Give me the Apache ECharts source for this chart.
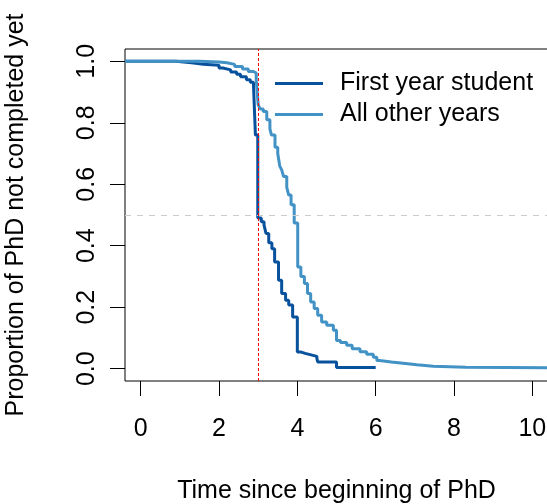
<!DOCTYPE html>
<html>
<head>
<meta charset="utf-8">
<script src="https://cdn.jsdelivr.net/npm/echarts@6/dist/echarts.min.js"></script>
<style>
html,body{margin:0;padding:0;background:#fff;}
#chart{width:547px;height:504px;}
</style>
</head>
<body>
<div id="chart"></div>
<script>
// Series names
const seriesNames = ["First year student", "All other years"];

// First year student (time, proportion)
const firstTimes = [-0.4, 0.9, 1.3, 1.6, 2.0, 2.1, 2.3, 2.45, 2.55, 2.7, 2.8, 2.88, 2.93, 2.99, 3.08, 3.15, 3.2, 3.27, 3.35, 3.42, 3.52, 3.6, 3.7, 3.78, 3.88, 4.0, 4.1, 4.2, 4.35, 4.5, 4.52, 5.0, 6.0];
const firstValues = [1.0, 0.995, 0.99, 0.987, 0.978, 0.972, 0.965, 0.958, 0.95, 0.94, 0.932, 0.924, 0.76, 0.49, 0.478, 0.467, 0.44, 0.41, 0.39, 0.347, 0.288, 0.245, 0.223, 0.207, 0.168, 0.054, 0.05, 0.045, 0.04, 0.033, 0.022, 0.004, 0.004];

// All other years (time, proportion)
const otherTimes = [-0.4, 1.5, 2.0, 2.2, 2.4, 2.6, 2.75, 2.88, 2.95, 3.0, 3.05, 3.13, 3.22, 3.3, 3.34, 3.43, 3.5, 3.55, 3.6, 3.65, 3.73, 3.78, 3.84, 3.92, 4.01, 4.09, 4.18, 4.26, 4.34, 4.43, 4.52, 4.62, 4.75, 4.92, 5.0, 5.1, 5.26, 5.4, 5.6, 5.77, 5.94, 6.03, 6.1, 6.4, 6.7, 7.05, 7.47, 8.3, 10.4];
const otherValues = [1.0, 0.998, 0.995, 0.99, 0.983, 0.975, 0.967, 0.962, 0.94, 0.859, 0.845, 0.837, 0.81, 0.78, 0.76, 0.72, 0.70, 0.66, 0.647, 0.625, 0.59, 0.565, 0.533, 0.474, 0.331, 0.30, 0.277, 0.245, 0.217, 0.196, 0.174, 0.152, 0.141, 0.125, 0.092, 0.085, 0.076, 0.065, 0.055, 0.047, 0.037, 0.027, 0.022, 0.018, 0.013, 0.008, 0.005, 0.003, 0.003];

// Tick labels
const xTicks = [0, 2, 4, 6, 8, 10];
const yTicks = [0, 0.2, 0.4, 0.6, 0.8, 1.0];

// Reference lines
const refTime = 3;
const refProp = 0.5;

const FONT = "'Liberation Sans', Arial, Helvetica, sans-serif";
const zip = (a, b) => a.map((v, i) => [v, b[i]]);

const chart = echarts.init(document.getElementById('chart'), null, {renderer: 'canvas'});
chart.setOption({
  animation: false,
  backgroundColor: '#ffffff',
  textStyle: {fontFamily: FONT},
  grid: {left: 125, top: 49, right: -1, bottom: 123, containLabel: false, outerBoundsMode: 'none',
    show: true, borderColor: '#000', borderWidth: 1, backgroundColor: 'transparent'},
  legend: {
    orient: 'vertical', left: 270, top: 66, itemWidth: 48, itemHeight: 3, itemGap: 6,
    icon: 'rect',
    textStyle: {fontFamily: FONT, fontSize: 25, color: '#000', padding: [0, 0, 0, 12]},
    data: seriesNames
  },
  xAxis: {
    type: 'value', min: -0.4, max: 10.4,
    name: 'Time since beginning of PhD', nameLocation: 'middle', nameGap: 98,
    nameTextStyle: {fontFamily: FONT, fontSize: 25, color: '#000'},
    axisLine: {show: false, onZero: false},
    splitLine: {show: false},
    axisTick: {show: true, inside: false, length: 15, customValues: xTicks, lineStyle: {color: '#000', width: 1}},
    axisLabel: {show: true, customValues: xTicks, margin: 36, fontFamily: FONT, fontSize: 25, color: '#000'}
  },
  yAxis: {
    type: 'value', min: -0.04, max: 1.04,
    name: 'Proportion of PhD not completed yet', nameLocation: 'middle', nameGap: 96,
    nameTextStyle: {fontFamily: FONT, fontSize: 25, color: '#000'},
    axisLine: {show: false, onZero: false},
    splitLine: {show: false},
    axisTick: {show: true, inside: false, length: 15, customValues: yTicks, lineStyle: {color: '#000', width: 1}},
    axisLabel: {show: true, customValues: yTicks, rotate: 90, margin: 25, fontFamily: FONT, fontSize: 25, color: '#000',
      formatter: v => v.toFixed(1)}
  },
  series: [
    {
      name: seriesNames[0], type: 'line', step: 'end', showSymbol: false, symbol: 'none',
      data: zip(firstTimes, firstValues),
      lineStyle: {color: '#08519c', width: 3}, itemStyle: {color: '#08519c'},
      markLine: {
        silent: true, symbol: 'none', label: {show: false},
        lineStyle: {color: '#cccccc', width: 1, type: [6, 6]},
        data: [{yAxis: refProp}]
      },
      z: 2
    },
    {
      name: seriesNames[1], type: 'line', step: 'end', showSymbol: false, symbol: 'none',
      data: zip(otherTimes, otherValues),
      lineStyle: {color: '#4292c6', width: 3}, itemStyle: {color: '#4292c6'},
      markLine: {
        silent: true, symbol: 'none', label: {show: false},
        lineStyle: {color: '#ff0000', width: 1, type: [3, 2], opacity: 1},
        emphasis: {disabled: true},
        data: [{xAxis: refTime}]
      },
      z: 3
    }
  ]
});
</script>
</body>
</html>
